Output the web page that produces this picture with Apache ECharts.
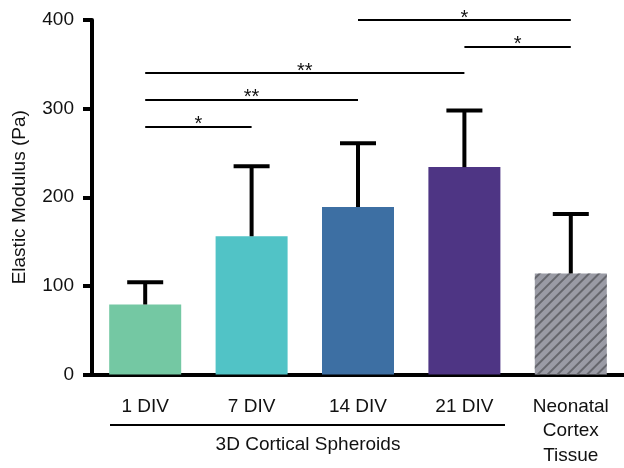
<!DOCTYPE html>
<html>
<head>
<meta charset="utf-8">
<script src="https://cdn.jsdelivr.net/npm/echarts@6/dist/echarts.min.js"></script>
<style>
	html, body { margin: 0; padding: 0; background: #fff; }
	#chart { width: 624px; height: 468px; }
</style>
</head>
<body>
<div id="chart"></div>
<script>
// values
var categories = ['1 DIV', '7 DIV', '14 DIV', '21 DIV', 'Neonatal\nCortex\nTissue'];
var means = [79, 156, 189, 234, 114];
var upperErr = [104, 235, 261, 298, 181];
var barColors = ['#74c8a3', '#51c3c6', '#3d6fa3', '#4e3584', '#9a9ba5'];
var yTicks = [0, 100, 200, 300, 400];
// significance brackets: [from, to, height, stars]
var sigFrom = [0, 0, 0, 3, 2];
var sigTo = [1, 2, 3, 4, 4];
var sigY = [280, 310, 340, 370, 400];
var sigText = ['*', '**', '**', '*', '*'];

var FONT = "'Liberation Sans', Arial, sans-serif";

function initChart(el) {
	var mychart = echarts.init(el);

	var barData = [];
	for(var i = 0; i < means.length; i++) {
		var item = { value: means[i], itemStyle: { color: barColors[i] } };
		if(i == means.length - 1) {
			item.itemStyle.decal = {
				symbol: 'rect',
				symbolSize: 1,
				dashArrayX: [1, 0],
				dashArrayY: [2, 5],
				rotation: -Math.PI / 4,
				color: '#66676d'
			};
		}
		barData.push(item);
	}

	var errData = [];
	for(var i = 0; i < means.length; i++) errData.push([i, means[i], upperErr[i]]);

	var sigLines = [];
	for(var i = 0; i < sigY.length; i++) {
		sigLines.push([
			{ coord: [sigFrom[i], sigY[i]], label: { formatter: sigText[i] } },
			{ coord: [sigTo[i], sigY[i]] }
		]);
	}

	var option = {
		animation: false,
		textStyle: { fontFamily: FONT },
		grid: { left: 92, top: 20, width: 535, height: 360 },
		xAxis: {
			type: 'category',
			data: categories,
			axisLine: { lineStyle: { color: '#000', width: 4 } },
			axisTick: { alignWithLabel: true, length: 10, lineStyle: { color: '#000', width: 4 } },
			axisLabel: { color: '#111', fontSize: 19, lineHeight: 24.5, margin: 20, fontFamily: FONT }
		},
		yAxis: {
			type: 'value',
			min: yTicks[0],
			max: yTicks[yTicks.length - 1],
			interval: 100,
			name: 'Elastic Modulus (Pa)',
			nameLocation: 'middle',
			nameGap: 63,
			nameTextStyle: { color: '#111', fontSize: 19, fontFamily: FONT },
			axisLine: { show: true, lineStyle: { color: '#000', width: 4 } },
			axisTick: { show: true, length: 9, lineStyle: { color: '#000', width: 4 } },
			axisLabel: { color: '#111', fontSize: 19, margin: 18, fontFamily: FONT },
			splitLine: { show: false }
		},
		series: [{
			type: 'bar',
			barWidth: 72,
			data: barData,
			markLine: {
				silent: true,
				symbol: 'none',
				lineStyle: { color: '#000', width: 2, type: 'solid' },
				label: { show: true, position: 'middle', color: '#111', fontSize: 20, distance: -8, fontFamily: FONT },
				data: sigLines
			}
		}, {
			type: 'custom',
			data: errData,
			z: 3,
			renderItem: function(params, api) {
				var top = api.coord([api.value(0), api.value(1)]);
				var cap = api.coord([api.value(0), api.value(2)]);
				var st = { stroke: '#000', lineWidth: 4 };
				return {
					type: 'group',
					children: [
						{ type: 'line', shape: { x1: top[0], y1: top[1], x2: cap[0], y2: cap[1] }, style: st },
						{ type: 'line', shape: { x1: cap[0] - 18, y1: cap[1], x2: cap[0] + 18, y2: cap[1] }, style: st }
					]
				};
			}
		}],
		graphic: [
			{ type: 'line', shape: { x1: 110, y1: 425, x2: 505, y2: 425 }, style: { stroke: '#000', lineWidth: 2 } },
			{ type: 'text', x: 308, y: 445, style: { text: '3D Cortical Spheroids', fontSize: 19, fontFamily: FONT, fill: '#111', align: 'center', verticalAlign: 'middle' } }
		]
	};
	mychart.setOption(option);
	return mychart;
}

initChart(document.getElementById('chart'));
</script>
</body>
</html>
